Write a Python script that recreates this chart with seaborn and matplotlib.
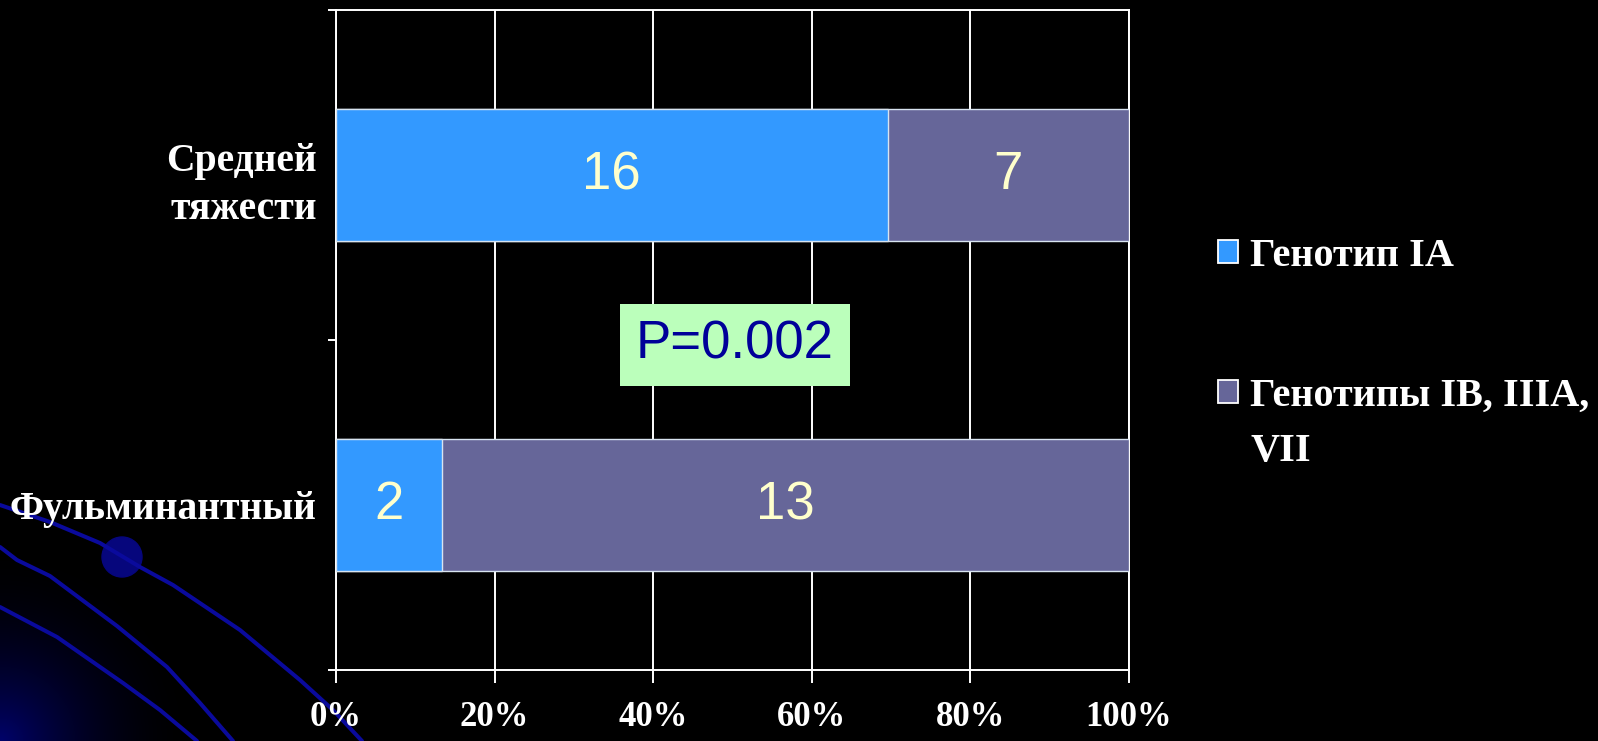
import numpy as np
import pandas as pd
import matplotlib
matplotlib.use("Agg")
import matplotlib.pyplot as plt
import seaborn as sns
from matplotlib.patches import Patch, Circle

# ---- data -------------------------------------------------------------
categories = ["Средней\nтяжести", "Фульминантный"]
genotype_ia = [16, 2]        # Генотип IA
genotype_other = [7, 13]     # Генотипы IB, IIIA, VII
series_names = ["Генотип IA", "Генотипы IB, IIIA,\nVII"]
x_ticks = [0, 20, 40, 60, 80, 100]
p_value_label = "P=0.002"

# ---- styling ----------------------------------------------------------
BLUE = "#3399FF"
PURPLE = "#666699"
VALUE_COLOR = "#FFFFCC"
EDGE = "#D8E4F0"
W, H = 1598, 741

sns.set_style("dark", {"axes.facecolor": "black", "figure.facecolor": "black"})
plt.rcParams["font.family"] = ["Liberation Serif", "DejaVu Serif"]

totals = np.array(genotype_ia) + np.array(genotype_other)
df = pd.DataFrame({
    "category": categories,
    "ia_share": np.array(genotype_ia) / totals * 100,
    "full": totals / totals * 100,
})

fig = plt.figure(figsize=(W / 100, H / 100), dpi=100, facecolor="black")

# ---- slide background: corner glow, arcs and a bead ----------------------
bg = fig.add_axes([0, 0, 1, 1], zorder=-10)
bg.set_xlim(0, W)
bg.set_ylim(H, 0)
bg.axis("off")
yy, xx = np.mgrid[0:H, 0:W]
glow = np.clip(1 - np.hypot(xx, yy - H) / 200, 0, 1) ** 2.0
img = np.zeros((H, W, 3))
img[..., 2] = 0.42 * glow
img[..., 1] = 0.01 * glow
bg.imshow(img, extent=(0, W, H, 0), aspect="auto", interpolation="bilinear")
arc_color = "#0A0A9C"
arcs = [
    ([0, 50, 100, 140, 173, 240, 300, 333, 362], [505, 522, 543, 567, 585, 630, 680, 710, 741]),
    ([0, 17, 50, 117, 167, 200, 233], [547, 560, 576, 626, 667, 703, 741]),
    ([0, 57, 123, 160, 197], [607, 637, 683, 710, 741]),
]
for xs, ys in arcs:
    bg.plot(xs, ys, color=arc_color, lw=2.9, solid_joinstyle="round")
bg.add_patch(Circle((122, 557), 20, color="#06067C"))

# ---- chart ------------------------------------------------------------
ax = fig.add_axes([336 / W, 71 / H, 793 / W, 660 / H])
ax.set_facecolor("black")
sns.barplot(data=df, x="full", y="category", orient="h", color=PURPLE,
            saturation=1, width=0.4, edgecolor=EDGE, linewidth=1.0, ax=ax,
            zorder=3)
sns.barplot(data=df, x="ia_share", y="category", orient="h", color=BLUE,
            saturation=1, width=0.4, edgecolor=EDGE, linewidth=1.0, ax=ax,
            zorder=4)

value_font = dict(family=["Liberation Sans", "DejaVu Sans"], fontsize=38,
                  color=VALUE_COLOR, ha="center", va="center", zorder=6)
for i, (share, n_ia, n_other) in enumerate(zip(df["ia_share"], genotype_ia, genotype_other)):
    ax.text(share / 2, i, str(n_ia), **value_font)
    ax.text((share + 100) / 2, i, str(n_other), **value_font)

ax.set_xlim(0, 100)
ax.set_ylim(1.5, -0.5)
ax.set_xlabel("")
ax.set_ylabel("")

# grid and frame
ax.set_axisbelow(True)
ax.xaxis.grid(True, color="white", lw=1.4)
ax.yaxis.grid(False)
for side in ["left", "bottom", "top", "right"]:
    ax.spines[side].set_visible(True)
    ax.spines[side].set_color("white")
    ax.spines[side].set_linewidth(1.4)

# x axis
ax.set_xticks(x_ticks)
ax.set_xticklabels([f"{v}%" for v in x_ticks], fontsize=25, fontweight="bold",
                   color="white")
ax.tick_params(axis="x", which="major", direction="out", length=9, width=1.4,
               color="white", pad=13, bottom=True)

# y axis: tick marks on band edges, labels centred on bands
ax.set_yticks([-0.5, 0.5, 1.5])
ax.set_yticklabels([])
ax.set_yticks([0, 1], minor=True)
ax.set_yticklabels(categories, minor=True, fontsize=28.5, fontweight="bold",
                   color="white", linespacing=1.4, ha="right")
ax.tick_params(axis="y", which="major", direction="out", length=6, width=1.4,
               color="white", left=True)
ax.tick_params(axis="y", which="minor", length=0, pad=14, left=True)

# significance box
ax.text(50.3, 0.515, p_value_label, family=["Liberation Sans", "DejaVu Sans"],
        fontsize=38, color="#000099", ha="center", va="center", zorder=7,
        bbox=dict(boxstyle="square,pad=0.3", fc="#BBFFBB", ec="none"))

# legend: the swatch sits on the first line of each name, the rest wraps below
legend_size = 29
legend_font = dict(family="Liberation Serif", size=legend_size, weight="bold")
first_lines = [n.split("\n")[0] for n in series_names]
handles = [Patch(facecolor=c, edgecolor="white", linewidth=1.3, label=n)
           for c, n in zip([BLUE, PURPLE], first_lines)]
leg = fig.legend(handles=handles, loc="center left",
                 bbox_to_anchor=(1218 / W, 1 - 326 / H), frameon=False,
                 prop=legend_font, labelcolor="white", handlelength=0.5,
                 handleheight=0.5, handletextpad=0.3, labelspacing=2.55,
                 borderaxespad=0, borderpad=0)
fig.canvas.draw()
for name, txt in zip(series_names, leg.get_texts()):
    rest = name.split("\n")[1:]
    if rest:
        bb = txt.get_window_extent()
        yc = (bb.y0 + bb.y1) / 2
        fig.text(bb.x0 / W, (yc - 56) / H, "\n".join(rest), color="white",
                 fontfamily="Liberation Serif", fontsize=legend_size,
                 fontweight="bold", ha="left", va="center")

fig.savefig("out.png", dpi=100, facecolor="black")
